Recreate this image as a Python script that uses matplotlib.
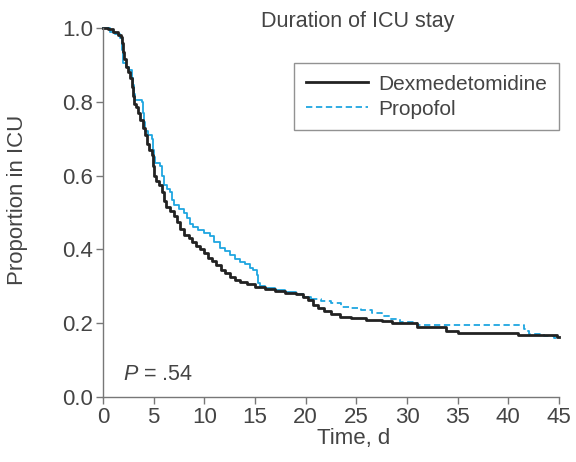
import numpy as np
import matplotlib
matplotlib.use("Agg")
import matplotlib.pyplot as plt
from matplotlib.lines import Line2D

plt.rcParams['font.family'] = ['Liberation Sans', 'DejaVu Sans']
plt.rcParams['mathtext.fontset'] = 'custom'
plt.rcParams['mathtext.it'] = 'Liberation Sans:italic'
plt.rcParams['mathtext.rm'] = 'Liberation Sans'

# Kaplan-Meier curves (time in days, proportion in ICU)
dex_t = [0, 0.5, 1.0, 1.5, 1.8, 1.9, 2.0, 2.1, 2.3, 2.5, 2.7, 2.9, 3.0, 3.1,
         3.3, 3.5, 3.7, 3.9, 4.1, 4.3, 4.5, 4.8, 4.9, 5.0, 5.2, 5.5, 5.8, 6.0,
         6.2, 6.6, 7.0, 7.3, 7.6, 8.0, 8.5, 8.8, 9.2, 9.6, 10.0, 10.4, 10.8,
         11.2, 11.6, 12.0, 12.5, 13.0, 13.5, 14.2, 15.0, 16.0, 17.0, 18.0, 19.0,
         19.7, 20.2, 20.7, 21.2, 21.8, 22.5, 23.4, 24.5, 26.0, 27.5, 28.5, 31.0,
         33.8, 35.0, 41.0, 44.8, 45]
dex_p = [1.0, 0.997, 0.99, 0.98, 0.975, 0.96, 0.935, 0.915, 0.895, 0.88, 0.865,
         0.84, 0.815, 0.795, 0.785, 0.77, 0.75, 0.73, 0.71, 0.685, 0.67, 0.655,
         0.625, 0.60, 0.585, 0.575, 0.555, 0.53, 0.515, 0.505, 0.49, 0.475,
         0.455, 0.44, 0.43, 0.42, 0.41, 0.40, 0.39, 0.378, 0.368, 0.358, 0.345,
         0.335, 0.325, 0.318, 0.313, 0.307, 0.298, 0.292, 0.287, 0.283, 0.279,
         0.272, 0.262, 0.25, 0.24, 0.232, 0.224, 0.218, 0.214, 0.21, 0.206,
         0.201, 0.19, 0.178, 0.173, 0.168, 0.163, 0.163]

pro_t = [0, 0.7, 1.2, 1.7, 1.9, 2.0, 2.3, 2.6, 2.9, 3.0, 3.1, 3.2, 3.8, 3.9,
         4.0, 4.1, 4.4, 4.8, 4.9, 5.0, 5.1, 5.6, 5.8, 6.0, 6.3, 6.6, 6.8, 7.0,
         7.5, 8.0, 8.3, 8.6, 8.9, 9.4, 10.0, 10.6, 11.0, 11.5, 12.0, 12.5, 13.0,
         13.5, 14.0, 14.5, 14.8, 15.2, 15.3, 15.5, 16.0, 17.0, 18.0, 19.0, 19.7,
         20.5, 21.5, 22.5, 23.5, 24.5, 25.5, 26.5, 27.5, 28.3, 29.3, 31.0, 41.5,
         41.8, 42.0, 43.5, 44.5, 45]
pro_p = [1.0, 0.99, 0.985, 0.973, 0.94, 0.905, 0.895, 0.885, 0.865, 0.845,
         0.82, 0.805, 0.80, 0.77, 0.745, 0.72, 0.71, 0.70, 0.67, 0.65, 0.635,
         0.625, 0.60, 0.575, 0.565, 0.555, 0.535, 0.52, 0.51, 0.50, 0.485, 0.47,
         0.46, 0.452, 0.445, 0.435, 0.42, 0.405, 0.395, 0.385, 0.375, 0.366,
         0.36, 0.35, 0.344, 0.33, 0.31, 0.30, 0.295, 0.29, 0.285, 0.28, 0.272,
         0.265, 0.26, 0.255, 0.245, 0.24, 0.235, 0.228, 0.22, 0.212, 0.203,
         0.196, 0.185, 0.178, 0.172, 0.165, 0.16, 0.16]

xticks = [0, 5, 10, 15, 20, 25, 30, 35, 40, 45]
yticks = [0.0, 0.2, 0.4, 0.6, 0.8, 1.0]

black = '#222222'
blue = '#1fa6e0'
gray = '#777777'
txt = '#444444'

fig = plt.figure(figsize=(5.76, 4.62), dpi=100)
ax = fig.add_axes([103/576, 1 - 397/462, 456/576, 369/462])

# propofol: solid through the steep part, dashed from ~day 20 on
pro_t = np.array(pro_t)
pro_p = np.array(pro_p)
split = np.searchsorted(pro_t, 20.0)
ax.plot(pro_t[:split + 1], pro_p[:split + 1], drawstyle='steps-post',
        color=blue, lw=1.3, clip_on=False)
ax.plot(pro_t[split:], pro_p[split:], drawstyle='steps-post',
        color=blue, lw=1.3, dashes=(3.5, 2), clip_on=False)
ax.plot(dex_t, dex_p, drawstyle='steps-post', color=black, lw=2.0,
        clip_on=False)

ax.set_xlim(0, 45)
ax.set_ylim(0, 1.0)
ax.set_xticks(xticks)
ax.set_yticks(yticks)
ax.set_yticklabels([f"{v:.1f}" for v in yticks])
for s in ['top', 'right']:
    ax.spines[s].set_visible(False)
for s in ['left', 'bottom']:
    ax.spines[s].set_color(gray)
    ax.spines[s].set_linewidth(1.0)
ax.tick_params(direction='out', length=5, width=1.0, color=gray,
               labelcolor=txt, labelsize=16, pad=2)

ax.set_xlabel('Time, d', fontsize=16, color=txt)
ax.xaxis.set_label_coords(0.55, -0.085)
ax.set_ylabel('Proportion in ICU', fontsize=16, color=txt)
ax.yaxis.set_label_coords(-0.165, 0.535)

fig.text(358/576, 1 - 22/462, 'Duration of ICU stay', fontsize=15.5,
         color=txt, ha='center', va='center')
ax.text(2.0, 0.06, r'$P$ = .54', fontsize=15.5, color=txt, va='center')

handles = [Line2D([], [], color=black, lw=2.0),
           Line2D([], [], color=blue, lw=1.3, dashes=(3.5, 2))]
leg = ax.legend(handles, ['Dexmedetomidine', 'Propofol'], loc='upper right',
                bbox_to_anchor=(1.0, 0.905), borderaxespad=0, fontsize=15,
                frameon=True, fancybox=False, handlelength=3.0,
                handletextpad=0.5, labelspacing=0.3, borderpad=0.55)
leg.get_frame().set_edgecolor(gray)
leg.get_frame().set_linewidth(1.0)
for t in leg.get_texts():
    t.set_color(txt)

fig.savefig('out.png', dpi=100)
